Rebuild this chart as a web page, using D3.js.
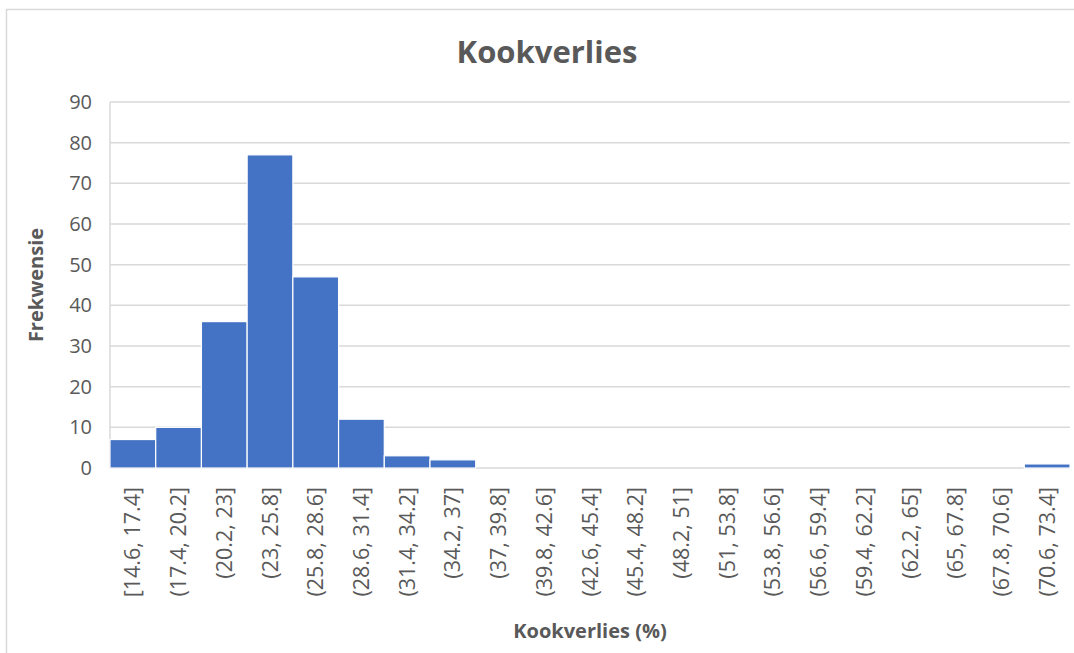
<!DOCTYPE html>
<html>
<head>
<meta charset="utf-8">
<script src="https://cdn.jsdelivr.net/npm/d3@7"></script>
<style>
  html, body { margin: 0; padding: 0; background: #fff; }
  svg { display: block; }
</style>
</head>
<body>
<svg id="chart" width="1074" height="653"></svg>
<script>
// Histogram bins of cooking loss (%) and their counts
const bins = [
  "[14.6, 17.4]", "(17.4, 20.2]", "(20.2, 23]", "(23, 25.8]", "(25.8, 28.6]",
  "(28.6, 31.4]", "(31.4, 34.2]", "(34.2, 37]", "(37, 39.8]", "(39.8, 42.6]",
  "(42.6, 45.4]", "(45.4, 48.2]", "(48.2, 51]", "(51, 53.8]", "(53.8, 56.6]",
  "(56.6, 59.4]", "(59.4, 62.2]", "(62.2, 65]", "(65, 67.8]", "(67.8, 70.6]",
  "(70.6, 73.4]"
];
const counts = [7, 10, 36, 77, 47, 12, 3, 2, 0, 0, 0, 0, 0, 0, 0, 0, 0, 0, 0, 0, 1];
const yTicks = [0, 10, 20, 30, 40, 50, 60, 70, 80, 90];

const title = "Kookverlies";
const xTitle = "Kookverlies (%)";
const yTitle = "Frekwensie";

const W = 1074, H = 653;
const plot = { left: 110, right: 1070, top: 102, bottom: 468 };
const font = "'Open Sans', Lato, sans-serif";
const textColor = "#595959";
const gridColor = "#d9d9d9";
const barColor = "#4472c4";

const svg = d3.select("#chart");

// chart frame
svg.append("rect")
  .attr("x", 6.5).attr("y", 9.5)
  .attr("width", W + 20).attr("height", H + 20)
  .attr("fill", "#fff")
  .attr("stroke", "#d9d9d9").attr("stroke-width", 1.5);

const x = d3.scaleBand()
  .domain(bins)
  .range([plot.left, plot.right])
  .paddingInner(0).paddingOuter(0);

const y = d3.scaleLinear()
  .domain([0, 90])
  .range([plot.bottom, plot.top]);

// horizontal gridlines
svg.append("g")
  .selectAll("line")
  .data(yTicks)
  .join("line")
  .attr("x1", plot.left).attr("x2", plot.right)
  .attr("y1", d => y(d)).attr("y2", d => y(d))
  .attr("stroke", gridColor).attr("stroke-width", 1.5);

// left edge of the plot area
svg.append("line")
  .attr("x1", plot.left).attr("x2", plot.left)
  .attr("y1", y(90)).attr("y2", y(0))
  .attr("stroke", gridColor).attr("stroke-width", 1.5);

// y axis tick labels
const yAxis = d3.axisLeft(y).tickValues(yTicks).tickSize(0).tickPadding(18);
const gy = svg.append("g")
  .attr("transform", `translate(${plot.left},0)`)
  .call(yAxis);
gy.select(".domain").remove();
gy.selectAll("text")
  .attr("fill", textColor)
  .style("font-family", font)
  .style("font-size", "20px");

// bars
svg.append("g")
  .selectAll("rect")
  .data(counts.map((c, i) => ({ bin: bins[i], count: c })))
  .join("rect")
  .attr("x", d => x(d.bin))
  .attr("y", d => y(d.count))
  .attr("width", x.bandwidth())
  .attr("height", d => y(0) - y(d.count))
  .attr("fill", barColor)
  .attr("stroke", "#fff")
  .attr("stroke-width", d => d.count > 0 ? 1.2 : 0);

// x axis category labels, rotated
const xAxis = d3.axisBottom(x).tickSize(0).tickPadding(0);
const gx = svg.append("g")
  .attr("transform", `translate(0,${plot.bottom})`)
  .call(xAxis);
gx.select(".domain").remove();
gx.selectAll("text")
  .attr("fill", textColor)
  .style("font-family", font)
  .style("font-size", "21.5px")
  .attr("text-anchor", "end")
  .attr("dy", "0.35em")
  .attr("transform", "translate(0,19) rotate(-90)")
  .attr("x", 0).attr("y", 0);

// titles
svg.append("text")
  .attr("x", 547).attr("y", 63)
  .attr("text-anchor", "middle")
  .attr("fill", textColor)
  .style("font-family", font)
  .style("font-size", "31px")
  .style("font-weight", "bold")
  .text(title);

svg.append("text")
  .attr("x", (plot.left + plot.right) / 2).attr("y", 638)
  .attr("text-anchor", "middle")
  .attr("fill", textColor)
  .style("font-family", font)
  .style("font-size", "20px")
  .style("font-weight", "bold")
  .text(xTitle);

svg.append("text")
  .attr("transform", `translate(43,${(plot.top + plot.bottom) / 2}) rotate(-90)`)
  .attr("text-anchor", "middle")
  .attr("fill", textColor)
  .style("font-family", font)
  .style("font-size", "20px")
  .style("font-weight", "bold")
  .text(yTitle);
</script>
</body>
</html>
